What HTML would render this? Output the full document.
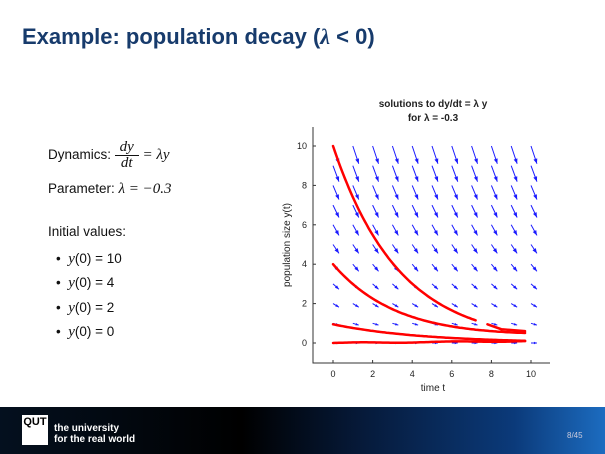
<!DOCTYPE html>
<html><head><meta charset="utf-8"><style>
body{margin:0;width:605px;height:454px;overflow:hidden;background:#fff;font-family:"Liberation Sans",sans-serif;position:relative}
.t{position:absolute;left:22px;top:24px;font-size:22px;font-weight:bold;color:#173b6c}
.l{position:absolute;left:48px;font-size:13.5px;color:#111}
.m{font-family:"Liberation Serif",serif;font-style:italic;font-size:15px}
.foot{position:absolute;left:0;top:407px;width:605px;height:47px;background:linear-gradient(90deg,#04101f 0%,#000 40%,#061a3a 60%,#0b3a7a 85%,#1c6cc0 100%)}
</style></head><body>
<div class="t">Example: population decay (<span style="font-family:'Liberation Serif',serif;font-style:italic">λ</span> &lt; 0)</div>
<div class="l" style="top:140px">Dynamics: <span class="m" style="position:relative;display:inline-block;width:24px;text-align:center;vertical-align:middle;line-height:15px"><span style="display:block;border-bottom:1px solid #111">dy</span><span style="display:block">dt</span></span> <span class="m">= λy</span></div>
<div class="l" style="top:181px">Parameter: <span class="m">λ = −0.3</span></div>
<div class="l" style="top:224px">Initial values:</div>
<div class="l" style="top:247px;left:56px;line-height:23.3px">
<div>• &nbsp;<span class="m">y</span>(0) = 10</div>
<div>• &nbsp;<span class="m">y</span>(0) = 4</div>
<div>• &nbsp;<span class="m">y</span>(0) = 2</div>
<div>• &nbsp;<span class="m">y</span>(0) = 0</div>
</div>
<svg width="605" height="454" style="position:absolute;left:0;top:0" id="s">
<g font-family="Liberation Sans,sans-serif" font-size="10" fill="#222">
<text x="433" y="107" text-anchor="middle" font-weight="bold">solutions to dy/dt = λ y</text>
<text x="433" y="121" text-anchor="middle" font-weight="bold">for λ = -0.3</text>
<text x="433" y="391" text-anchor="middle">time t</text>
<text transform="translate(290,245) rotate(-90)" text-anchor="middle">population size y(t)</text>
</g>
<path d="M313,127V363H550" fill="none" stroke="#333" stroke-width="1"/>
<g id="ticks" font-family="Liberation Sans,sans-serif" font-size="9" fill="#222"></g>
<g id="arr" stroke="#1a1aff" stroke-width="1" fill="#1a1aff"></g>
<g fill="none" stroke="#f00" stroke-width="2.5" stroke-linecap="round">
<path id="c1"/><path id="c2"/><path id="c3"/><path id="c4"/>
</g>
</svg>
<div class="foot">
<div style="position:absolute;left:22px;top:8px;width:26px;height:30px;background:#fff;color:#000;font-weight:bold;font-size:11px;line-height:14px;text-align:center">QUT</div>
<div style="position:absolute;left:54px;top:16px;color:#fff;font-size:10px;font-weight:bold;line-height:11px">the university<br>for the real world</div>
<div style="position:absolute;left:567px;top:24px;color:#ccd;font-size:8px">8/45</div>
</div>
<script>
const X=v=>333+v*19.8,Y=v=>343-v*19.7,ns="http://www.w3.org/2000/svg";
function el(p,t,a,txt){const e=document.createElementNS(ns,t);for(const k in a)e.setAttribute(k,a[k]);if(txt)e.textContent=txt;p.appendChild(e);return e}
const tk=document.getElementById("ticks");
for(let v=0;v<=10;v+=2){
el(tk,"line",{x1:X(v),x2:X(v),y1:363,y2:360,stroke:"#333"});
el(tk,"text",{x:X(v),y:377,"text-anchor":"middle"},""+v);
el(tk,"line",{x1:313,x2:316,y1:Y(v),y2:Y(v),stroke:"#333"});
el(tk,"text",{x:307,y:Y(v)+3,"text-anchor":"end"},""+v);}
const ar=document.getElementById("arr");
for(let i=0;i<=10;i++)for(let j=0;j<=10;j++){
const x0=X(i),y0=Y(j);
const dx=0.3*19.8,dy=0.3*0.3*j*19.7;
const x1=x0+dx,y1=y0+dy;
el(ar,"line",{x1:x0,y1:y0,x2:x1,y2:y1});
const L=Math.hypot(dx,dy),ux=dx/L,uy=dy/L,h=Math.min(5,L*0.5);
el(ar,"path",{d:`M${x1},${y1}L${x1-h*ux-h*0.4*uy},${y1-h*uy+h*0.4*ux}L${x1-h*ux+h*0.4*uy},${y1-h*uy-h*0.4*ux}Z`,stroke:"none"});}
function curve(id,f,a,b){let d="";for(let t=a;t<=b+1e-9;t+=0.1){d+=(d?"L":"M")+X(t).toFixed(1)+","+Y(f(t)).toFixed(1)}document.getElementById(id).setAttribute("d",d)}
curve("c1",t=>10*Math.exp(-0.3*t),0,7.2);
document.getElementById("c1").setAttribute("d",document.getElementById("c1").getAttribute("d")+"M"+X(7.8)+","+Y(0.95)+"L"+X(8.5)+","+Y(0.7)+"L"+X(9.7)+","+Y(0.6));
curve("c2",t=>4*Math.exp(-0.3*t)+0.03*t,0,9.7);
curve("c3",t=>0.95*Math.exp(-0.22*t),0,9.7);
curve("c4",t=>0.02*Math.sin(t*1.3)+0.01*t,0,9.7);
</script>
</body></html>
